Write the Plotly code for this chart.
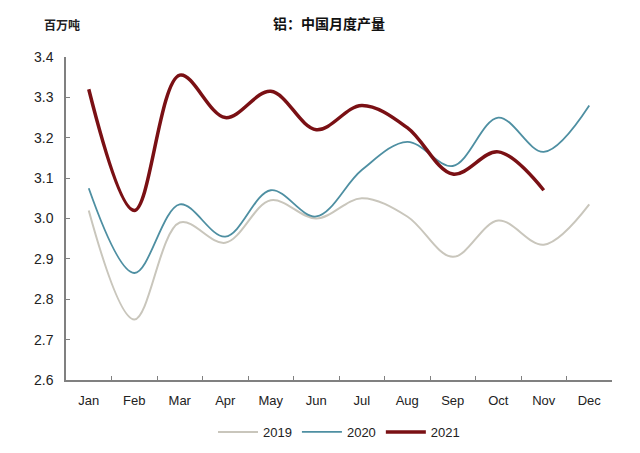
import plotly.graph_objects as go

months = ["Jan", "Feb", "Mar", "Apr", "May", "Jun", "Jul", "Aug", "Sep", "Oct", "Nov", "Dec"]
y2019 = [3.02, 2.75, 2.99, 2.94, 3.045, 3.00, 3.05, 3.005, 2.905, 2.995, 2.935, 3.035]
y2020 = [3.075, 2.865, 3.035, 2.955, 3.07, 3.005, 3.12, 3.19, 3.13, 3.25, 3.165, 3.28]
y2021 = [3.32, 3.02, 3.355, 3.25, 3.315, 3.22, 3.28, 3.225, 3.11, 3.165, 3.07]

font_family = "Liberation Sans, Arial, Noto Sans CJK SC, sans-serif"

fig = go.Figure()
fig.add_trace(go.Scatter(x=months, y=y2019, name="2019", mode="lines",
                         line=dict(color="#C9C6BC", width=2, shape="spline", smoothing=1)))
fig.add_trace(go.Scatter(x=months, y=y2020, name="2020", mode="lines",
                         line=dict(color="#4E8FA2", width=1.8, shape="spline", smoothing=1)))
fig.add_trace(go.Scatter(x=months[:len(y2021)], y=y2021, name="2021", mode="lines",
                         line=dict(color="#7A1014", width=3.5, shape="spline", smoothing=1)))

W, H = 632, 445
fig.update_layout(
    width=W, height=H,
    margin=dict(l=58, r=28, t=49, b=73, autoexpand=False),
    paper_bgcolor="white", plot_bgcolor="white",
    font=dict(family=font_family, size=13, color="#222"),
    title=dict(text="<b>铝：中国月度产量</b>", x=0.508, xanchor="center", y=1 - 16 / H, yanchor="middle",
               font=dict(family="Noto Sans CJK SC, sans-serif", size=14, color="#111")),
    showlegend=True,
    legend=dict(orientation="h", x=0.5, xanchor="center", y=-0.161, yanchor="middle",
                bgcolor="rgba(0,0,0,0)", font=dict(size=13), itemwidth=40, tracegroupgap=0),
    annotations=[dict(text="<b>百万吨</b>", x=-0.007, y=1.102, xref="paper", yref="paper",
                      xanchor="center", yanchor="middle", showarrow=False,
                      font=dict(family="Noto Sans CJK SC, sans-serif", size=12, color="#222"))],
)
fig.update_xaxes(type="category", range=[-0.5, 11.5], showgrid=False, showline=True, automargin=False,
                 linecolor="#808080", linewidth=1.5, ticks="inside", tickson="boundaries",
                 ticklen=4, tickcolor="#808080", tickfont=dict(size=13), ticklabelstandoff=8)
fig.update_yaxes(range=[2.6, 3.4], dtick=0.1, tickformat=".1f", showgrid=False, showline=True, automargin=False,
                 linecolor="#808080", linewidth=1.5, ticks="inside", ticklen=4,
                 tickcolor="#808080", zeroline=False, tickfont=dict(size=14), ticklabelstandoff=8)

fig.write_html("out.html")
